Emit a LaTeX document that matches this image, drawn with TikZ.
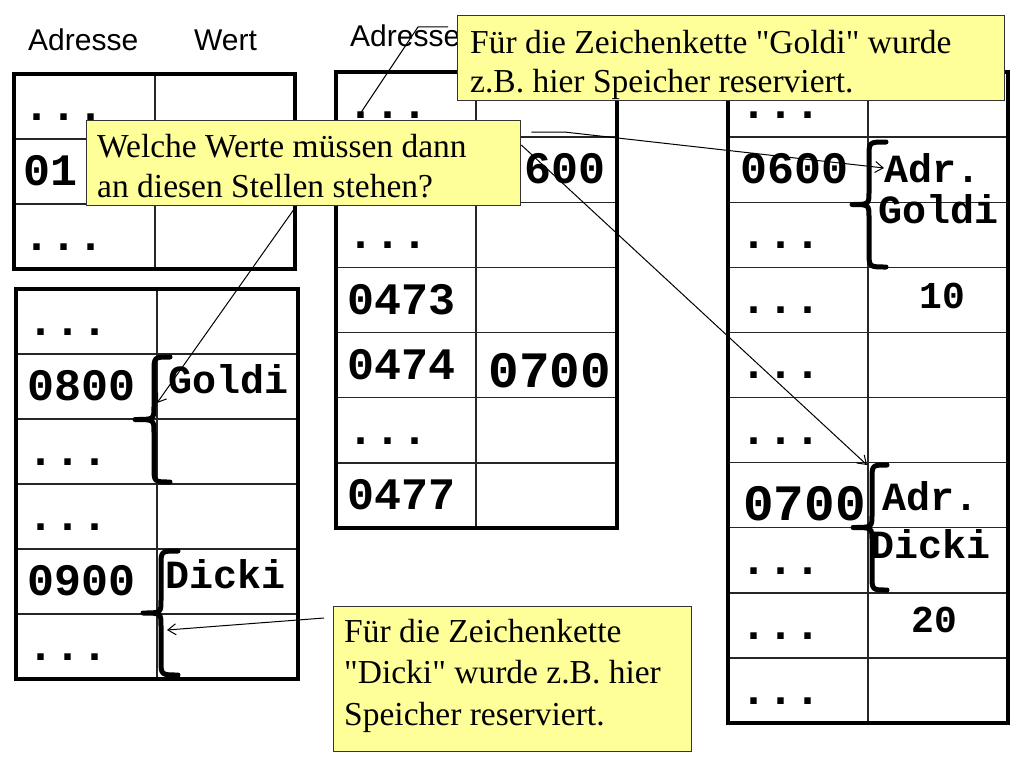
\documentclass[tikz,border=0pt]{standalone}
\usepackage{fontspec}
\setmainfont{Liberation Serif}[Ligatures=TeXOff]
\newfontfamily\monof{Liberation Mono}
\newfontfamily\sansf{Liberation Sans}
\usetikzlibrary{arrows.meta,calc}
\definecolor{calloutfill}{RGB}{255,255,153}
\newcommand\fsz[1]{\fontsize{#1}{#1}\selectfont}
% #1 left, #2 divider, #3 right, #4 top, #5 row height, #6 rows, #7 rows-1
\newcommand\memtab[7]{%
  \foreach \k in {1,...,#7} {\draw[innerline] (#1,{#4+\k*#5}) -- (#3,{#4+\k*#5});}
  \draw[innerline] (#2,#4) -- (#2,{#4+#6*#5});
  \draw[outerline] (#1,#4) rectangle (#3,{#4+#6*#5});
}
% #1 spine x, #2 tip x, #3 hook x, #4 top y, #5 bottom y
\newcommand\curlyb[5]{%
  \pgfmathsetmacro\cbm{(#4+#5)/2}
  \draw[curly] (#3,#4) .. controls (#1,#4) .. ({#1},{#4+15}) -- ({#1},{\cbm-13})
    .. controls ({#1},{\cbm}) .. ({#2},{\cbm}) .. controls ({#1},{\cbm}) .. ({#1},{\cbm+13})
    -- ({#1},{#5-15}) .. controls ({#1},{#5}) .. ({#3},{#5});
}
\tikzset{
  innerline/.style={line width=1.4pt, draw=black!85},
  outerline/.style={line width=3.4pt, draw=black},
  addr/.style={font=\monof\bfseries\fsz{45}, anchor=base west, inner sep=0pt},
  dotrow/.style={addr, text height=7pt, text depth=0pt},
  bigaddr/.style={font=\monof\bfseries\fsz{51}, inner sep=0pt},
  lbl/.style={font=\monof\bfseries\fsz{40}, anchor=base west, inner sep=0pt},
  num/.style={font=\monof\bfseries\fsz{38}, anchor=base, inner sep=0pt},
  hdr/.style={font=\sansf\fsz{30}, anchor=base west, inner sep=0pt},
  callout/.style={draw=black!80, line width=1.3pt, fill=calloutfill, anchor=north west, inner sep=0pt},
  ctext/.style={font=\fsz{33.5}, anchor=base west, inner sep=0pt},
  curly/.style={line width=5pt, line cap=round, line join=round},
  conn/.style={line width=1pt, draw=black},
  arr/.style={conn, -{Straight Barb[length=8pt,width=11pt]}}
}
\begin{document}
\begin{tikzpicture}[x=1pt,y=-1pt]
\fill[white] (0,0) rectangle (1024,768);
\useasboundingbox (0,0) rectangle (1024,768);

% headers
\node[hdr] (h1) at (28,50) {Adresse};
\node[hdr] (h2) at (194,50) {Wert};
\node[hdr] (h3) at (350,47) {Adresse};

% tables
\memtab{14}{155}{295}{74}{65}{3}{2}
\memtab{16}{157}{298}{289}{65}{6}{5}
\memtab{336}{476}{617}{72}{65.14}{7}{6}
\memtab{728}{868}{1008}{72}{65.1}{10}{9}

% table 1
\node[dotrow] (a11) at (23,120.5) {...};
\node[addr] (a12) at (23,185.5) {01};
\node[dotrow] (a13) at (23,250.5) {...};

% table 2
\node[dotrow] (a21) at (27,335.5) {...};
\node[addr] (a22) at (27,400.5) {0800};
\node[dotrow] (a23) at (27,465.5) {...};
\node[dotrow] (a24) at (27,530.5) {...};
\node[addr] (a25) at (27,595.5) {0900};
\node[dotrow] (a26) at (27,660.5) {...};
\node[lbl] (g2) at (168,393) {Goldi};
\node[lbl] (d2) at (165,588) {Dicki};

% table 3
\node[dotrow] (a31) at (347,118.6) {...};
\node[dotrow] (a33) at (347,248.9) {...};
\node[addr] (a34) at (347,314) {0473};
\node[addr] (a35) at (347,379.1) {0474};
\node[dotrow] (a36) at (347,444.3) {...};
\node[addr] (a37) at (347,509.4) {0477};
\node[addr] (v32) at (524,183.7) {600};
\node[bigaddr, anchor=base] (v35) at (550,387) {0700};

% table 4
\node[dotrow] (a41) at (740,118.6) {...};
\node[addr] (a42) at (740,183.6) {0600};
\node[dotrow] (a43) at (740,248.7) {...};
\node[dotrow] (a44) at (740,313.8) {...};
\node[dotrow] (a45) at (740,378.9) {...};
\node[dotrow] (a46) at (740,444) {...};
\node[bigaddr, anchor=base west] (a47) at (743,520) {0700};
\node[dotrow] (a48) at (740,574.2) {...};
\node[dotrow] (a49) at (740,639.2) {...};
\node[dotrow] (a410) at (740,704.3) {...};
\node[lbl] (ad1) at (884,182) {Adr.};
\node[lbl] (gd1) at (878,223) {Goldi};
\node[lbl] (ad2) at (882,510) {Adr.};
\node[lbl] (dk2) at (870,558) {Dicki};
\node[num] (n10) at (942,308) {10};
\node[num] (n20) at (934,632) {20};

% braces
\curlyb{869}{852}{886}{142}{267}
\curlyb{872}{853}{887}{465}{590}
\curlyb{154}{135}{170}{357}{482}
\curlyb{161}{143}{178}{551}{675}

% callouts
\node[callout, minimum width=547pt, minimum height=85pt] (G) at (457,15) {};
\node[ctext] (G1) at (470,53) {Für die Zeichenkette "Goldi" wurde};
\node[ctext] (G2) at (470,92) {z.B. hier Speicher reserviert.};

\node[callout, minimum width=434pt, minimum height=85pt] (W) at (86,120) {};
\node[ctext] (W1) at (97,157) {Welche Werte müssen dann};
\node[ctext] (W2) at (97,197) {an diesen Stellen stehen?};

\node[callout, minimum width=358pt, minimum height=145pt] (D) at (333,606) {};
\node[ctext] (D1) at (344,642) {Für die Zeichenkette};
\node[ctext] (D2) at (344,683) {"Dicki" wurde z.B. hier};
\node[ctext] (D3) at (344,725) {Speicher reserviert.};

% connector targets
\coordinate (p1) at (358,117);
\coordinate (p2) at (157,403);
\coordinate (p3) at (884,168);
\coordinate (p4) at (867,465);
\coordinate (p5) at (167,630);

% connectors
\draw[conn] ($(G.north west)+(-9,12)$) -- ++(-30,0) -- (p1);
\draw[arr] ($(W.south)+(-9,2)$) -- (p2);
\draw[arr] ($(W.north east)+(10,12)$) -- ++(33,0) -- (p3);
\draw[arr] ($(W.north east)+(0,25)$) -- (p4);
\draw[arr] ($(D.north west)+(-9,12)$) -- (p5);
\end{tikzpicture}
\end{document}
